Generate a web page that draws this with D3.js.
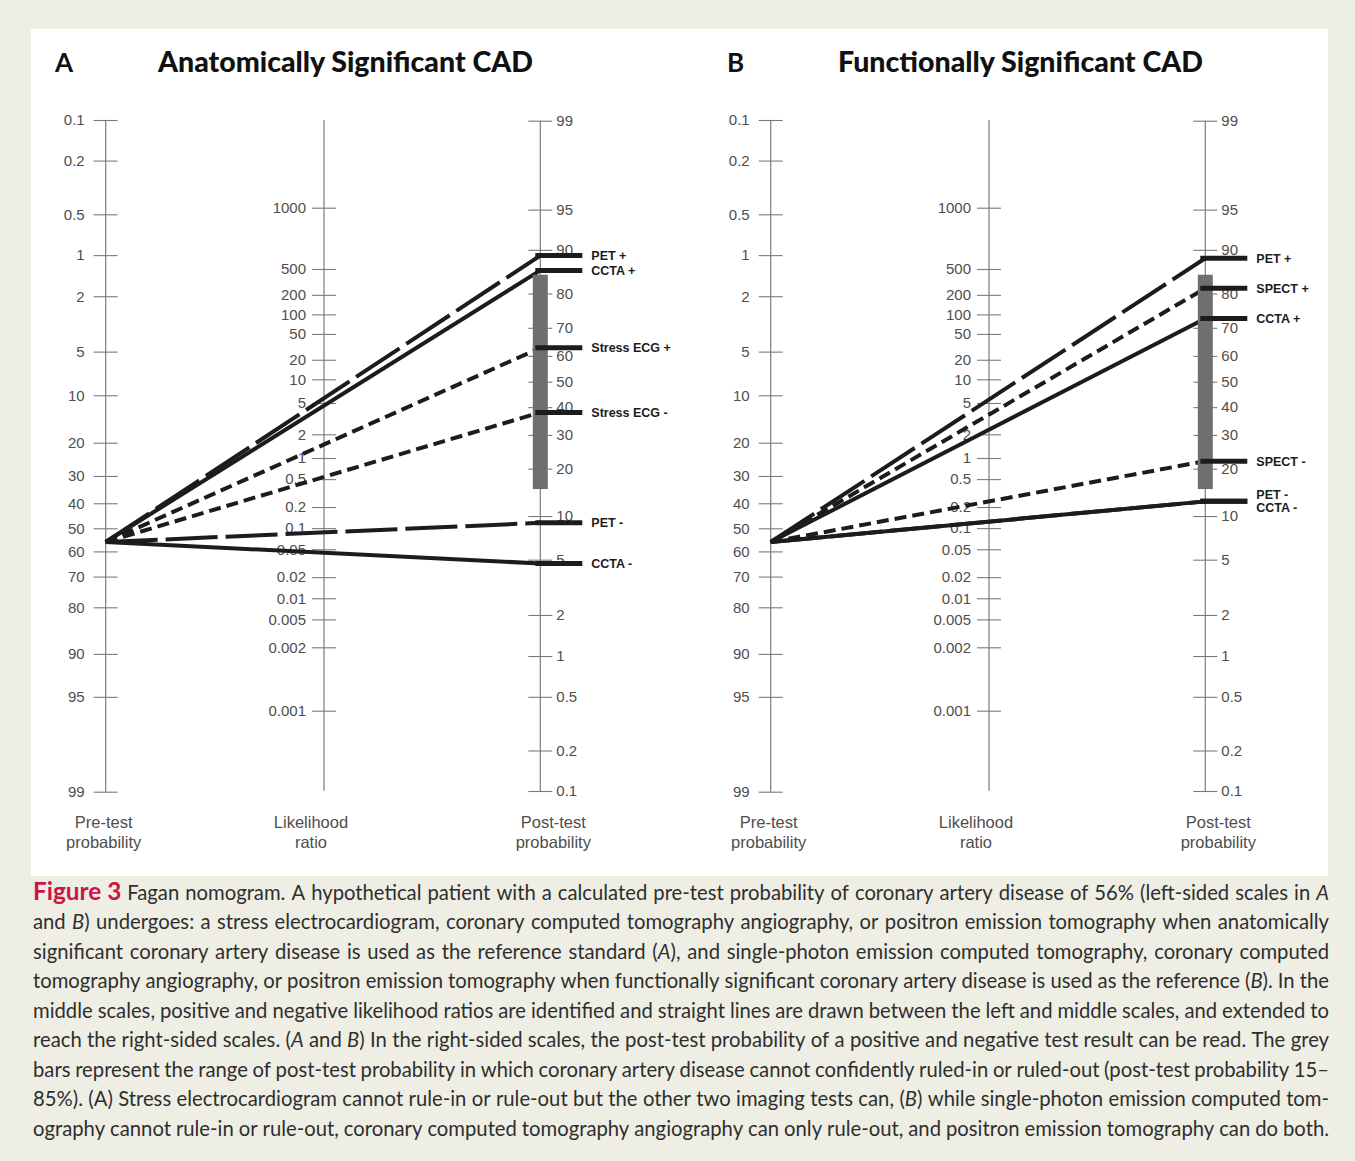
<!DOCTYPE html>
<html><head><meta charset="utf-8">
<script src="https://cdn.jsdelivr.net/npm/d3@7"></script>
<style>
html,body{margin:0;padding:0;background:#efeee5;}
svg{display:block;}
</style></head>
<body>
<svg id="chart" width="1355" height="1161"></svg>
<script>
// ---------------- DATA ----------------
const pretestProbability = 56;
const pretestTicks = [0.1, 0.2, 0.5, 1, 2, 5, 10, 20, 30, 40, 50, 60, 70, 80, 90, 95, 99];
const posttestTicks = [99, 95, 90, 80, 70, 60, 50, 40, 30, 20, 10, 5, 2, 1, 0.5, 0.2, 0.1];
const lrTicks = [1000, 500, 200, 100, 50, 20, 10, 5, 2, 1, 0.5, 0.2, 0.1, 0.05, 0.02, 0.01, 0.005, 0.002, 0.001];
const greyZone = [15, 85];
const panelLetters = ["A", "B"];
const panelTitles = ["Anatomically Significant CAD", "Functionally Significant CAD"];
const testsA = ["PET +", "CCTA +", "Stress ECG +", "Stress ECG -", "PET -", "CCTA -"];
const postA  = [89, 86, 63, 38, 9, 4.7];
const testsB = ["PET +", "SPECT +", "CCTA +", "SPECT -", "PET -", "CCTA -"];
const postB  = [88.5, 81.5, 73, 22, 12.5, 12.5];
const axisNames = [["Pre-test", "probability"], ["Likelihood", "ratio"], ["Post-test", "probability"]];
const captionLines = [
  "#Figure# #3# Fagan nomogram. A hypothetical patient with a calculated pre-test probability of coronary artery disease of 56% (left-sided scales in _A_",
  "and _B_) undergoes: a stress electrocardiogram, coronary computed tomography angiography, or positron emission tomography when anatomically",
  "significant coronary artery disease is used as the reference standard (_A_), and single-photon emission computed tomography, coronary computed",
  "tomography angiography, or positron emission tomography when functionally significant coronary artery disease is used as the reference (_B_). In the",
  "middle scales, positive and negative likelihood ratios are identified and straight lines are drawn between the left and middle scales, and extended to",
  "reach the right-sided scales. (_A_ and _B_) In the right-sided scales, the post-test probability of a positive and negative test result can be read. The grey",
  "bars represent the range of post-test probability in which coronary artery disease cannot confidently ruled-in or ruled-out (post-test probability 15–",
  "85%). (A) Stress electrocardiogram cannot rule-in or rule-out but the other two imaging tests can, (_B_) while single-photon emission computed tom-",
  "ography cannot rule-in or rule-out, coronary computed tomography angiography can only rule-out, and positron emission tomography can do both."
];

// ---------------- LAYOUT ----------------
const svg = d3.select("#chart");
const W = 1355, H = 1161;
svg.append("rect").attr("width", W).attr("height", H).attr("fill", "#efeee5");
svg.append("rect").attr("x", 31).attr("y", 29).attr("width", 1297).attr("height", 847).attr("fill", "#ffffff");

const logit = p => Math.log(p / (100 - p));
const calib = [0.1, 20, 50, 80, 99];
const leftY = d3.scaleLinear().domain(calib.map(logit)).range([120, 442.7, 528.3, 607.3, 791.7]);
const rightY = d3.scaleLinear().domain(calib.map(logit)).range([791, 468.7, 381.7, 293.5, 120.7]);
const lrY = d3.scaleLog().domain([0.001, 0.002, 1, 10, 500, 1000]).range([710.7, 647.3, 458, 379.3, 269, 207.7]);

const panels = [
  {off: 0, tests: testsA, post: postA, letterX: 55, titleX: 158, titleW: 375},
  {off: 665, tests: testsB, post: postB, letterX: 727, titleX: 838, titleW: 365}
];
const baseX = {L: 105.7, M: 324, R: 540.3};
const tickFont = "'Liberation Sans', Arial, Helvetica, sans-serif";
const axisColor = "#7a7a7a";
const labelColor = "#4e4e4e";

function dashFor(name) {
  if (name.startsWith("PET")) return "52,8";
  if (name.startsWith("CCTA")) return null;
  return "12,6";
}

panels.forEach((p, pi) => {
  const g = svg.append("g");
  const xL = baseX.L + p.off, xM = baseX.M + p.off, xR = baseX.R + p.off;

  // titles
  g.append("text").attr("x", p.letterX).attr("y", 72)
    .attr("font-family", "Lato, 'Open Sans', sans-serif").attr("font-weight", 700)
    .attr("font-size", 26).attr("fill", "#111").text(panelLetters[pi]);
  g.append("text").attr("x", p.titleX).attr("y", 72)
    .attr("font-family", "Lato, 'Open Sans', sans-serif").attr("font-weight", 900)
    .attr("font-size", 28).attr("fill", "#111")
    .attr("textLength", p.titleW).attr("lengthAdjust", "spacingAndGlyphs")
    .text(panelTitles[pi]);

  // vertical axis lines
  [[xL, 120, 791.7], [xM, 120, 790.7], [xR, 120.7, 791]].forEach(a => {
    g.append("line").attr("x1", a[0]).attr("x2", a[0]).attr("y1", a[1]).attr("y2", a[2])
      .attr("stroke", axisColor).attr("stroke-width", 1.2);
  });

  // left axis (pre-test)
  const axL = d3.axisLeft(leftY).tickValues(pretestTicks.map(logit))
    .tickFormat((d, i) => String(pretestTicks[i])).tickSize(24).tickPadding(9);
  const gL = g.append("g").attr("transform", `translate(${xL + 12},0)`).call(axL);
  // middle axis (LR)
  const axM = d3.axisLeft(lrY).tickValues(lrTicks)
    .tickFormat(d => String(d)).tickSize(24).tickPadding(6);
  const gM = g.append("g").attr("transform", `translate(${xM + 12},0)`).call(axM);
  // right axis (post-test)
  const axR = d3.axisRight(rightY).tickValues(posttestTicks.map(logit))
    .tickFormat((d, i) => String(posttestTicks[i])).tickSize(24).tickPadding(4);
  const gR = g.append("g").attr("transform", `translate(${xR - 12},0)`).call(axR);

  [gL, gM, gR].forEach(ax => {
    ax.select(".domain").remove();
    ax.selectAll(".tick line").attr("stroke", axisColor).attr("stroke-width", 1.1);
    ax.selectAll(".tick text").attr("fill", labelColor).attr("font-size", 15)
      .attr("font-family", tickFont);
  });

  // axis names
  [[xL - 2, 0], [xM - 13, 1], [xR + 13, 2]].forEach(a => {
    const t = g.append("text").attr("text-anchor", "middle").attr("font-family", tickFont)
      .attr("font-size", 16.5).attr("fill", labelColor);
    axisNames[a[1]].forEach((s, k) => {
      t.append("tspan").attr("x", a[0]).attr("y", 828 + k * 20).text(s);
    });
  });

  // test lines
  const y0 = leftY(logit(pretestProbability));
  const lineGen = d3.line();
  const gLines = g.append("g");
  p.tests.forEach((name, i) => {
    const yp = rightY(logit(p.post[i]));
    const path = gLines.append("path")
      .attr("d", lineGen([[xL, y0], [xR, yp]]))
      .attr("fill", "none").attr("stroke", "#1c1c1c").attr("stroke-width", 4);
    const da = dashFor(name);
    if (da) path.attr("stroke-dasharray", da);
  });

  // grey zone bar
  g.append("rect").attr("x", xR - 7.5).attr("width", 15)
    .attr("y", rightY(logit(greyZone[1])))
    .attr("height", rightY(logit(greyZone[0])) - rightY(logit(greyZone[1])))
    .attr("fill", "#6f6f6f");

  // markers and labels
  const ys = p.tests.map((n, i) => rightY(logit(p.post[i])));
  const order = d3.range(p.tests.length).sort((a, b) => ys[a] - ys[b]);
  const labY = ys.slice();
  for (let k = 1; k < order.length; k++) {
    const a = order[k - 1], b = order[k];
    if (labY[b] - labY[a] < 13) {
      const mid = (labY[a] + labY[b]) / 2;
      labY[a] = mid - 6.5; labY[b] = mid + 6.5;
    }
  }
  p.tests.forEach((name, i) => {
    g.append("line").attr("x1", xR - 5).attr("x2", xR + 42)
      .attr("y1", ys[i]).attr("y2", ys[i])
      .attr("stroke", "#1c1c1c").attr("stroke-width", 5);
    g.append("text").attr("x", xR + 51).attr("y", labY[i] + 4.5)
      .attr("font-family", tickFont).attr("font-weight", 700).attr("font-size", 12.5)
      .attr("fill", "#1c1c1c").text(name);
  });
});

// ---------------- CAPTION ----------------
const capG = svg.append("g");
const capLeft = 33, capWidth = 1296;
const capFont = "Lato, 'Open Sans', sans-serif";
let capSize = 23;

function buildWord(parent, word, y, size) {
  const t = parent.append("text").attr("y", y).attr("font-family", capFont)
    .attr("font-size", size).attr("fill", "#2e2e2e");
  word.split(/(_[^_]+_|#[^#]+#)/).filter(s => s.length).forEach(seg => {
    const ts = t.append("tspan");
    if (seg[0] === "_") ts.attr("font-style", "italic").text(seg.slice(1, -1));
    else if (seg[0] === "#") ts.attr("font-weight", 700).attr("fill", "#cc1546")
      .attr("font-size", size * 1.2).text(seg.slice(1, -1));
    else ts.text(seg);
  });
  return t;
}

// fit font size so the widest line fits with natural word spacing
(function fit() {
  const tmp = capG.append("g");
  let maxW = 0;
  captionLines.forEach(line => {
    const words = line.split(" ");
    let w = 0;
    words.forEach(wd => { const t = buildWord(tmp, wd, 0, capSize); w += t.node().getComputedTextLength(); });
    w += (words.length - 1) * capSize * 0.23;
    maxW = Math.max(maxW, w);
  });
  tmp.remove();
  if (maxW > capWidth) capSize = capSize * capWidth / maxW;
})();

captionLines.forEach((line, li) => {
  const y = 900 + li * 29.45;
  const words = line.split(" ");
  const items = words.map(wd => {
    const t = buildWord(capG, wd, y, capSize);
    return {t, w: t.node().getComputedTextLength()};
  });
  const total = d3.sum(items, d => d.w);
  const gaps = items.length - 1;
  let gap = (capWidth - total) / gaps;
  if (li === captionLines.length - 1) gap = Math.min(gap, capSize * 0.25);
  let x = capLeft;
  items.forEach(it => { it.t.attr("x", x); x += it.w + gap; });
});
</script>
</body></html>
